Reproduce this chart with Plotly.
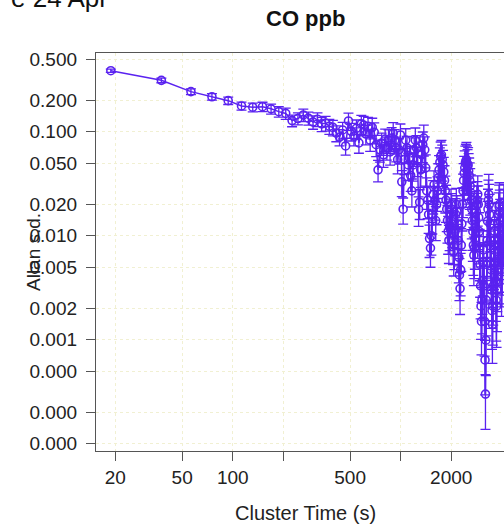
import numpy as np
import plotly.graph_objects as go

# ---- data ----
base_interval_s = 18.8          # cluster time step (s)
record_length_steps = 750       # length of record in steps, used for Allan s.d. uncertainty

allan_sd = [
    0.386, 0.312, 0.243, 0.217, 0.199, 0.177, 0.172, 0.174, 0.166, 0.156,
    0.150, 0.128, 0.134,
    0.145, 0.135, 0.124, 0.132, 0.119, 0.121, 0.113, 0.110, 0.097, 0.089,
    0.104, 0.073, 0.127, 0.101, 0.091, 0.108, 0.078, 0.119, 0.116, 0.095,
    0.113, 0.083, 0.110, 0.099, 0.075, 0.043, 0.067, 0.078, 0.060, 0.085,
    0.071, 0.083, 0.064, 0.087, 0.097, 0.083, 0.070, 0.054, 0.067,
    0.093, 0.033, 0.018, 0.054, 0.083, 0.070, 0.048, 0.056,
    0.038, 0.027, 0.048, 0.067, 0.083, 0.070, 0.054, 0.018, 0.021, 0.043,
    0.060, 0.075, 0.087, 0.067, 0.045, 0.027, 0.022, 0.016, 0.0094, 0.0076,
    0.010, 0.016, 0.025, 0.031, 0.022, 0.014, 0.020, 0.027, 0.036, 0.043,
    0.051, 0.058, 0.060, 0.054, 0.048, 0.041, 0.034, 0.027, 0.022, 0.018,
    0.014, 0.011, 0.0090, 0.012, 0.016, 0.020, 0.018, 0.013, 0.0090, 0.0070,
    0.0081, 0.011, 0.016, 0.020, 0.017, 0.013, 0.0090, 0.0062, 0.0042, 0.0031,
    0.0047, 0.0081, 0.013, 0.020, 0.027, 0.034, 0.040, 0.045, 0.050, 0.052,
    0.054, 0.050, 0.046, 0.048, 0.042, 0.038, 0.034, 0.030, 0.026, 0.022,
    0.018, 0.014, 0.011, 0.0081, 0.0065, 0.0076, 0.0094, 0.012, 0.014, 0.017,
    0.020, 0.022, 0.025, 0.020, 0.015, 0.011, 0.0076, 0.0053, 0.0033, 0.0021,
    0.0015, 0.0024, 0.0037, 0.0056, 0.0073, 0.0056, 0.0033, 0.0015, 0.00064, 0.00030,
    0.00099, 0.0024, 0.0053, 0.0090, 0.0138, 0.018, 0.022, 0.025, 0.020, 0.016,
    0.013, 0.0090, 0.0065, 0.0047, 0.0030, 0.0019, 0.0014, 0.0021, 0.0033, 0.0053,
    0.0073, 0.0090, 0.011, 0.0081, 0.0056, 0.0037, 0.0024, 0.0021, 0.0030, 0.0047,
    0.0070, 0.0094, 0.013, 0.016, 0.019, 0.020, 0.017, 0.0138, 0.010, 0.0076,
    0.0059, 0.0045, 0.0056, 0.0073, 0.0094, 0.012, 0.014, 0.017, 0.019, 0.017,
]

x_tickvals = [20, 50, 100, 200, 500, 1000, 2000, 5000]
x_ticktext = ["20", "50", "100", "", "500", "", "2000", "5000"]
y_tickvals = [0.5, 0.2, 0.1, 0.05, 0.02, 0.01, 0.005, 0.002, 0.001, 0.0005, 0.0002, 0.0001]
y_ticktext = ["0.500", "0.200", "0.100", "0.050", "0.020", "0.010", "0.005",
              "0.002", "0.001", "0.000", "0.000", "0.000"]

title_text = "CO ppb"
corner_text = "e 24 Apr"
x_title = "Cluster Time (s)"
y_title = "Allan s.d."

# ---- derived ----
sd = np.array(allan_sd)
n_steps = np.arange(1, len(sd) + 1)
tau = n_steps * base_interval_s
n_clusters = record_length_steps / n_steps
sd_err = sd / np.sqrt(n_clusters - 1)

COL = "#5a22f0"
FONT = "Liberation Sans, Arial, sans-serif"
TXT = "#222222"
GRID = "#f1f0d2"

fig = go.Figure()
fig.add_trace(go.Scatter(
    x=tau, y=sd, mode="lines+markers",
    line=dict(color=COL, width=1.5),
    marker=dict(symbol="circle-open", size=8, color=COL, line=dict(width=1.6, color=COL)),
    error_y=dict(type="data", array=sd_err, color=COL, thickness=1.3, width=5),
    showlegend=False,
))

L, T, B = 96, 53, 451
W, H = 504, 528
pw, ph = W - L, B - T

def px_x(p):
    return (p - L) / pw

def px_y(p):
    return (B - p) / ph

fig.update_layout(
    width=W, height=H,
    margin=dict(l=L, r=0, t=T, b=H - B, pad=0),
    paper_bgcolor="white", plot_bgcolor="white",
    font=dict(family=FONT, color=TXT, size=19),
    xaxis=dict(
        type="log", range=[1.186, 3.615],
        tickvals=x_tickvals, ticktext=x_ticktext,
        ticks="outside", ticklen=9, tickwidth=1.2, tickcolor="#555",
        showline=True, linecolor="#555", linewidth=1.3, mirror=True,
        showgrid=True, gridcolor=GRID, griddash="dot", gridwidth=1,
        zeroline=False, ticklabelstandoff=0,
        tickfont=dict(size=19, color=TXT, family=FONT),
    ),
    yaxis=dict(
        type="log", range=[-4.070, -0.243],
        tickvals=y_tickvals, ticktext=y_ticktext,
        ticks="outside", ticklen=9, tickwidth=1.2, tickcolor="#555",
        showline=True, linecolor="#555", linewidth=1.3, mirror=False,
        showgrid=True, gridcolor=GRID, griddash="dot", gridwidth=1,
        zeroline=False, ticklabelstandoff=5,
        tickfont=dict(size=19, color=TXT, family=FONT),
    ),
    annotations=[
        dict(text="<b>" + title_text + "</b>", xref="paper", yref="paper",
             x=px_x(305), y=px_y(18), xanchor="center", yanchor="middle",
             showarrow=False, font=dict(size=22, color="#111", family=FONT)),
        dict(text=corner_text, xref="paper", yref="paper",
             x=px_x(110), y=px_y(15), xanchor="right", yanchor="bottom",
             showarrow=False, font=dict(size=26, color="#111", family=FONT)),
        dict(text=x_title, xref="paper", yref="paper",
             x=px_x(305), y=px_y(513), xanchor="center", yanchor="middle",
             showarrow=False, font=dict(size=20, color=TXT, family=FONT)),
        dict(text=y_title, xref="paper", yref="paper", textangle=-90,
             x=px_x(33), y=px_y(252), xanchor="center", yanchor="middle",
             showarrow=False, font=dict(size=19, color=TXT, family=FONT)),
    ],
)

fig.write_html("out.html")
